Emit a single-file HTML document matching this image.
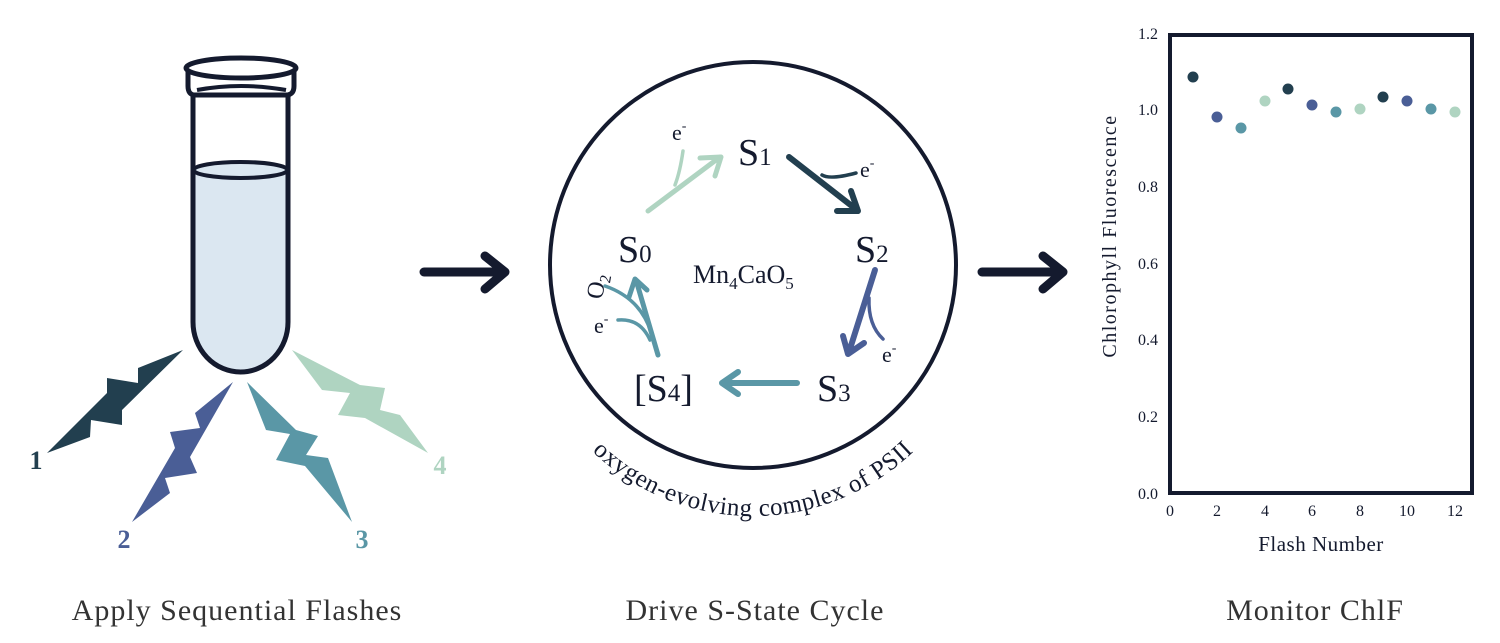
<!DOCTYPE html>
<html><head><meta charset="utf-8"><style>
html,body{margin:0;padding:0;background:#fff;}
svg{display:block;}
text{font-family:"Liberation Serif",serif;}
</style></head><body>
<svg width="1500" height="643" viewBox="0 0 1500 643" xmlns="http://www.w3.org/2000/svg">
<!-- Test tube -->
<path d="M193,95 L193,322 A47.5,50 0 0 0 288,322 L288,95" fill="#dbe7f1" stroke="none"/>
<rect x="193" y="95" width="95" height="75" fill="#fff"/>
<ellipse cx="240.5" cy="170" rx="47" ry="8" fill="#dbe7f1" stroke="#141a2e" stroke-width="4"/>
<path d="M193,93 L193,322 A47.5,50 0 0 0 288,322 L288,93" fill="none" stroke="#141a2e" stroke-width="5"/>
<path d="M188,68 L188,86 Q188,95 195,95 L286,95 Q294,95 294,86 L294,68" fill="#fff" stroke="#141a2e" stroke-width="5"/>
<ellipse cx="241" cy="68" rx="55" ry="10" fill="#fff" stroke="#141a2e" stroke-width="5"/>
<path d="M197,90 Q241,82 286,90" fill="none" stroke="#141a2e" stroke-width="4"/>
<!-- Bolts -->
<polygon points="183,350 138,368 138,383 107,378 107,393 47,453 90,437 91,420 122,425 122,410" fill="#223f4f"/>
<polygon points="233,382 195,413 200,428 170,432 175,448 132,522 170,493 165,478 197,473 190,457" fill="#4a5e96"/>
<polygon points="247,382 266,430 290,434 276,460 305,466 352,522 328,458 306,455 318,436 296,430" fill="#5a97a6"/>
<polygon points="292,350 322,390 350,393 338,415 365,418 428,453 400,415 380,410 385,388 360,385" fill="#afd4c1"/>
<text x="36" y="469" font-size="26" font-weight="bold" fill="#223f4f" text-anchor="middle">1</text>
<text x="124" y="548" font-size="26" font-weight="bold" fill="#4a5e96" text-anchor="middle">2</text>
<text x="362" y="548" font-size="26" font-weight="bold" fill="#5a97a6" text-anchor="middle">3</text>
<text x="440" y="474" font-size="26" font-weight="bold" fill="#afd4c1" text-anchor="middle">4</text>
<!-- Big arrows -->
<g stroke="#141a2e" stroke-width="9" stroke-linecap="round" stroke-linejoin="round" fill="none">
<path d="M424,272 L504,272 M485,256 L505,272 L485,289"/>
<path d="M982,272 L1062,272 M1043,256 L1063,272 L1043,289"/>
</g>
<!-- Circle -->
<circle cx="753" cy="265" r="203" fill="none" stroke="#141a2e" stroke-width="4"/>
<defs><path id="arc" d="M555,405 A232,232 0 0 0 951,405"/></defs>
<text font-size="25" fill="#141a2e" letter-spacing="0.5"><textPath href="#arc" startOffset="50%" text-anchor="middle">oxygen-evolving complex of PSII</textPath></text>
<!-- S labels -->
<g fill="#141a2e">
<text x="738" y="165" font-size="38">S<tspan font-size="25">1</tspan></text>
<text x="855" y="262" font-size="38">S<tspan font-size="25">2</tspan></text>
<text x="817" y="401" font-size="38">S<tspan font-size="25">3</tspan></text>
<text x="634" y="401" font-size="38">[S<tspan font-size="25">4</tspan>]</text>
<text x="618" y="262" font-size="38">S<tspan font-size="25">0</tspan></text>
<text x="693" y="283" font-size="26">Mn<tspan font-size="17" dy="6">4</tspan><tspan dy="-6">CaO</tspan><tspan font-size="17" dy="6">5</tspan></text>
<text x="672" y="140" font-size="22">e<tspan font-size="14" dy="-10">-</tspan></text>
<text x="860" y="177" font-size="22">e<tspan font-size="14" dy="-10">-</tspan></text>
<text x="882" y="362" font-size="22">e<tspan font-size="14" dy="-10">-</tspan></text>
<text x="594" y="333" font-size="22">e<tspan font-size="14" dy="-10">-</tspan></text>
<text x="0" y="0" font-size="24" transform="translate(602,300) rotate(-80)">O<tspan font-size="16" dy="5">2</tspan></text>
</g>
<!-- cycle arrows -->
<g fill="none" stroke-linecap="round" stroke-linejoin="round">
<g stroke="#afd4c1" stroke-width="5"><path d="M648,211 L720,157 M700,158 L721,157 L715,176"/><path d="M683,151 Q680,172 675,185" stroke-width="3.5"/></g>
<g stroke="#223f4f" stroke-width="6"><path d="M789,157 L857,210 M851,191 L858,211 L837,211"/><path d="M856,173 Q830,180 822,175" stroke-width="3.5"/></g>
<g stroke="#4a5e96" stroke-width="6"><path d="M875,270 L849,352 M843,336 L848,354 L864,343"/><path d="M883,339 Q868,325 869,298" stroke-width="3.5"/></g>
<g stroke="#5a97a6" stroke-width="6"><path d="M797,383 L723,383 M738,372 L722,383 L738,394"/></g>
<g stroke="#5a97a6" stroke-width="5"><path d="M658,355 L636,280 M629,297 L635,279 L647,290"/><path d="M605,286 Q640,298 651,332" stroke-width="3.5"/><path d="M618,320 Q640,318 650,340" stroke-width="3.5"/></g>
</g>
<!-- Plot -->
<rect x="1170" y="35" width="302" height="458" fill="none" stroke="#141a2e" stroke-width="4"/>
<g font-size="16" fill="#141a2e" text-anchor="end">
<text x="1158" y="39">1.2</text><text x="1158" y="115">1.0</text><text x="1158" y="192">0.8</text><text x="1158" y="269">0.6</text><text x="1158" y="345">0.4</text><text x="1158" y="422">0.2</text><text x="1158" y="499">0.0</text>
</g>
<g font-size="16" fill="#141a2e" text-anchor="middle">
<text x="1170" y="516">0</text><text x="1217" y="516">2</text><text x="1265" y="516">4</text><text x="1312" y="516">6</text><text x="1360" y="516">8</text><text x="1407" y="516">10</text><text x="1455" y="516">12</text>
</g>
<text x="1321" y="551" font-size="21" fill="#141a2e" text-anchor="middle" letter-spacing="0.5">Flash Number</text>
<text x="0" y="0" font-size="20" fill="#141a2e" text-anchor="middle" letter-spacing="1.5" transform="translate(1116,236) rotate(-90)">Chlorophyll Fluorescence</text>
<g>
<circle cx="1193" cy="77" r="5.5" fill="#223f4f"/>
<circle cx="1217" cy="117" r="5.5" fill="#4a5e96"/>
<circle cx="1241" cy="128" r="5.5" fill="#5a97a6"/>
<circle cx="1265" cy="101" r="5.5" fill="#afd4c1"/>
<circle cx="1288" cy="89" r="5.5" fill="#223f4f"/>
<circle cx="1312" cy="105" r="5.5" fill="#4a5e96"/>
<circle cx="1336" cy="112" r="5.5" fill="#5a97a6"/>
<circle cx="1360" cy="109" r="5.5" fill="#afd4c1"/>
<circle cx="1383" cy="97" r="5.5" fill="#223f4f"/>
<circle cx="1407" cy="101" r="5.5" fill="#4a5e96"/>
<circle cx="1431" cy="109" r="5.5" fill="#5a97a6"/>
<circle cx="1455" cy="112" r="5.5" fill="#afd4c1"/>
</g>
<!-- Captions -->
<g font-size="30" fill="#333" text-anchor="middle" letter-spacing="1">
<text x="237" y="620">Apply Sequential Flashes</text>
<text x="755" y="620">Drive S-State Cycle</text>
<text x="1315" y="620">Monitor ChlF</text>
</g>
</svg>
</body></html>
